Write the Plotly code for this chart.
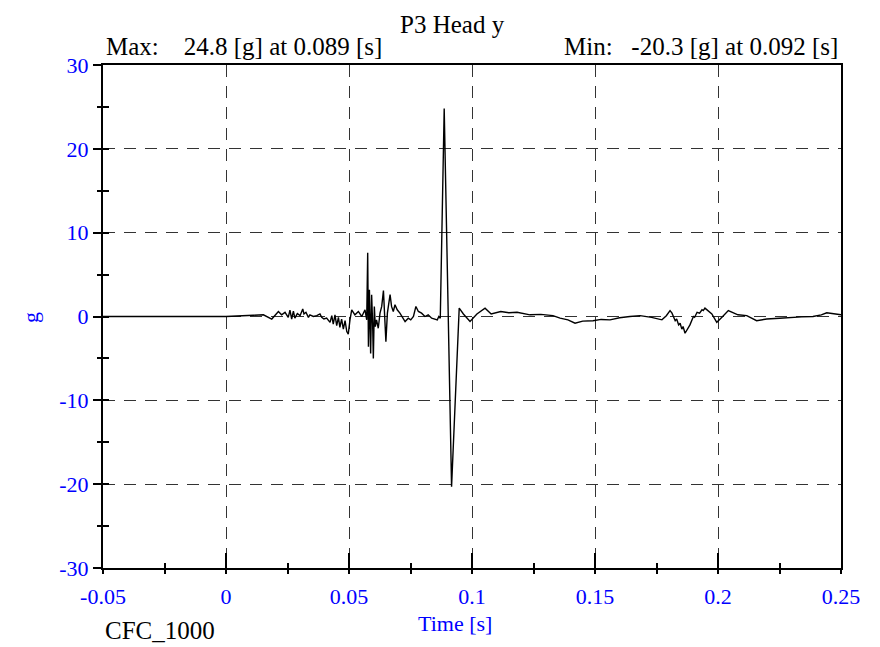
import plotly.graph_objects as go

# ---- data ----
time_s = [
    -0.05, 0.0, 0.0111, 0.0152, 0.0186, 0.0213, 0.0226, 0.0240, 0.0253, 0.0260,
    0.0267, 0.0274, 0.0280, 0.0290, 0.0301, 0.0312, 0.0317, 0.0325, 0.0335, 0.0341,
    0.0355, 0.0369, 0.0382, 0.0389, 0.0398, 0.0409, 0.0423, 0.0430, 0.0436, 0.0443,
    0.0450, 0.0457, 0.0463, 0.0470, 0.0477, 0.0484, 0.0491, 0.0497,
    0.0504, 0.0511, 0.0524, 0.0538, 0.0552, 0.0565, 0.0572, 0.0576, 0.0579, 0.0583,
    0.0588, 0.0592, 0.0596, 0.0599, 0.0603, 0.0607, 0.0612, 0.0619, 0.0626, 0.0633,
    0.0640, 0.0644, 0.0650, 0.0656, 0.0667, 0.0673, 0.0680, 0.0687, 0.0696, 0.0707,
    0.0718, 0.0728, 0.0741, 0.0751, 0.0762, 0.0772, 0.0782, 0.0795, 0.0809, 0.0822,
    0.0836, 0.0850, 0.0859, 0.0865, 0.0871, 0.0887, 0.0917, 0.0948, 0.0965, 0.0992,
    0.1020, 0.1053, 0.1078, 0.1117, 0.1150, 0.1183, 0.1236, 0.1280, 0.1329, 0.1358,
    0.1390, 0.1419, 0.1450, 0.1492, 0.1525, 0.1561, 0.1600, 0.1642, 0.1683, 0.1730,
    0.1772, 0.1790, 0.1805, 0.1813, 0.1820, 0.1826, 0.1832, 0.1840, 0.1846, 0.1853,
    0.1858, 0.1866, 0.1886, 0.1900, 0.1905, 0.1915, 0.1925, 0.1935, 0.1940, 0.1947,
    0.1975, 0.1995, 0.2016, 0.2042, 0.2081, 0.2117, 0.2157, 0.2198, 0.2250, 0.2293,
    0.2340, 0.2386, 0.2420, 0.2442, 0.2482, 0.2500,
]
accel_g = [
    0.0, 0.0, 0.15, 0.2, -0.3, 0.6, 0.2, 0.5, -0.1, 0.75,
    -0.3, 0.65, -0.2, 0.35, 0.1, 0.9, 0.3, 0.5, -0.1, 0.2,
    0.0, 0.1, 0.3, -0.1, -0.3, -0.2, -0.7, 0.1, -0.9, 0.2,
    -1.1, -0.1, -1.3, -0.3, -1.5, -0.5, -1.8, -2.1,
    -0.4, 0.8, 0.2, 0.6, 0.0, 0.8, -0.4, 7.6, -3.6, 3.2,
    -4.4, 2.6, -0.8, -5.0, 1.2, -1.2, -0.4, -1.4, 0.4, 1.2,
    3.1, 0.4, -3.0, 0.4, 2.6, 1.2, 0.6, 1.4, 0.8, 0.4,
    -0.2, -0.6, -0.2, -0.4, 0.0, 1.2, 0.6, 0.4, 0.0, 0.2,
    -0.2, -0.3, -0.4, 0.0, -0.2, 24.8, -20.3, 1.0, 0.3, -0.6,
    0.3, 1.0, 0.3, 0.6, 0.45, 0.5, 0.2, 0.25, 0.1, -0.2,
    -0.4, -0.8, -0.55, -0.5, -0.35, -0.4, -0.15, 0.0, 0.1, -0.1,
    -0.4, 0.1, 0.7, 0.4, 0.0, -0.5, -0.3, -1.0, -0.8, -1.5,
    -1.2, -2.0, -1.0, 0.0, -0.1, 0.5, 0.4, 0.8, 0.7, 1.0,
    0.3, -0.7, -0.1, 0.7, 0.2, 0.1, -0.5, -0.3, -0.2, -0.1,
    -0.05, 0.0, 0.2, 0.45, 0.3, 0.2,
]
x_range = [-0.05, 0.25]
y_range = [-30, 30]
x_tickvals = [-0.05, 0, 0.05, 0.1, 0.15, 0.2, 0.25]
x_ticktext = ["-0.05", "0", "0.05", "0.1", "0.15", "0.2", "0.25"]
y_tickvals = [-30, -20, -10, 0, 10, 20, 30]
y_ticktext = ["-30", "-20", "-10", "0", "10", "20", "30"]
title_text = "P3 Head y"
x_title = "Time [s]"
y_title = "g"
filter_label = "CFC_1000"

imax = max(range(len(accel_g)), key=lambda i: accel_g[i])
imin = min(range(len(accel_g)), key=lambda i: accel_g[i])
nb = "\u00a0"
max_text = f"Max:{nb*4}{accel_g[imax]:.1f} [g] at {time_s[imax]:.3f} [s]"
min_text = f"Min:{nb*3}{accel_g[imin]:.1f} [g] at {time_s[imin]:.3f} [s]"

FONT = "Liberation Serif, Times New Roman, serif"
BLUE = "#0000ff"
TICK_SIZE = 22
ANNO_SIZE = 25
TITLE_SIZE = 25

# page offset of 8 px (body margin): plot area in page px = 103..841 x 65..568
PX0, PX1, PY0, PY1 = 103, 841, 65, 568
OFF = 8
W, H = 880, 647


def px(x):
    return (x - PX0) / (PX1 - PX0)


def py(y):
    return (PY1 - y) / (PY1 - PY0)


fig = go.Figure()
fig.add_trace(go.Scatter(x=time_s, y=accel_g, mode="lines",
                         line=dict(color="black", width=1.4), showlegend=False,
                         hoverinfo="skip"))

grid_vals_x = [v for v in x_tickvals if v not in (x_range[0], x_range[1])]

fig.update_layout(
    width=W, height=H,
    margin=dict(l=PX0 - OFF, r=W - (PX1 - OFF), t=PY0 - OFF, b=H - (PY1 - OFF)),
    paper_bgcolor="white", plot_bgcolor="white",
    font=dict(family=FONT, size=TICK_SIZE, color="black"),
    xaxis=dict(
        range=x_range, tickmode="array", tickvals=x_tickvals, ticktext=x_ticktext,
        ticks="inside", ticklen=15, tickwidth=1.5, tickcolor="black",
        minor=dict(dtick=0.025, tick0=-0.05, ticks="inside", ticklen=5,
                   tickwidth=1.5, tickcolor="black", showgrid=False),
        showline=True, linecolor="black", linewidth=2, mirror=True,
        showgrid=False, zeroline=False,
        tickfont=dict(family=FONT, size=TICK_SIZE, color=BLUE),
        ticklabelstandoff=8,
    ),
    xaxis2=dict(
        range=x_range, overlaying="x", side="bottom", anchor="y",
        tickmode="array", tickvals=grid_vals_x, ticktext=[""] * len(grid_vals_x),
        ticks="outside", ticklen=5, tickwidth=1.5, tickcolor="black",
        minor=dict(dtick=0.025, tick0=-0.05, ticks="outside", ticklen=5,
                   tickwidth=1.5, tickcolor="black"),
        showline=False, showgrid=True, gridcolor="#333333", gridwidth=1,
        griddash="12px,9px", zeroline=False, showticklabels=False,
    ),
    yaxis=dict(
        range=y_range, tickmode="array", tickvals=y_tickvals, ticktext=y_ticktext,
        ticks="outside", ticklen=8, tickwidth=1.5, tickcolor="black",
        minor=dict(dtick=5, tick0=-30, ticks="outside", ticklen=4,
                   tickwidth=1.5, tickcolor="black", showgrid=False),
        showline=True, linecolor="black", linewidth=2, mirror=True,
        showgrid=False, zeroline=False,
        tickfont=dict(family=FONT, size=TICK_SIZE, color=BLUE),
        ticklabelstandoff=0,
    ),
    yaxis2=dict(
        range=y_range, overlaying="y", side="left", anchor="x",
        tickmode="array", tickvals=y_tickvals, ticktext=[""] * len(y_tickvals),
        ticks="inside", ticklen=9, tickwidth=1.5, tickcolor="black",
        minor=dict(dtick=5, tick0=-30, ticks="inside", ticklen=6,
                   tickwidth=1.5, tickcolor="black"),
        showline=False, showgrid=True, gridcolor="#333333", gridwidth=1,
        griddash="12px,9px", zeroline=False, showticklabels=False,
    ),
)

# invisible trace to bind the overlay axes
fig.add_trace(go.Scatter(x=[x_range[0]], y=[0], xaxis="x2", yaxis="y2",
                         mode="markers", marker=dict(opacity=0),
                         showlegend=False, hoverinfo="skip"))

annos = [
    dict(text=max_text, x=104, y=46, xanchor="left", color="black", size=ANNO_SIZE),
    dict(text=min_text, x=840, y=46, xanchor="right", color="black", size=ANNO_SIZE),
    dict(text=filter_label, x=103, y=630, xanchor="left", color="black", size=ANNO_SIZE),
    dict(text=x_title, x=455, y=623, xanchor="center", color=BLUE, size=TICK_SIZE),
]
for a in annos:
    fig.add_annotation(text=a["text"], xref="paper", yref="paper",
                       x=px(a["x"]), y=py(a["y"]),
                       xanchor=a["xanchor"], yanchor="middle", showarrow=False,
                       font=dict(family=FONT, size=a["size"], color=a["color"]))
# title: top of its text box just inside the figure
fig.add_annotation(text=title_text, xref="paper", yref="paper",
                   x=px(452), y=py(9), xanchor="center", yanchor="top",
                   showarrow=False,
                   font=dict(family=FONT, size=TITLE_SIZE, color="black"))
fig.add_annotation(text=y_title, xref="paper", yref="paper",
                   x=px(30), y=py(318),
                   xanchor="center", yanchor="middle", showarrow=False,
                   textangle=-90,
                   font=dict(family=FONT, size=TICK_SIZE, color=BLUE))

fig.write_html("out.html")
